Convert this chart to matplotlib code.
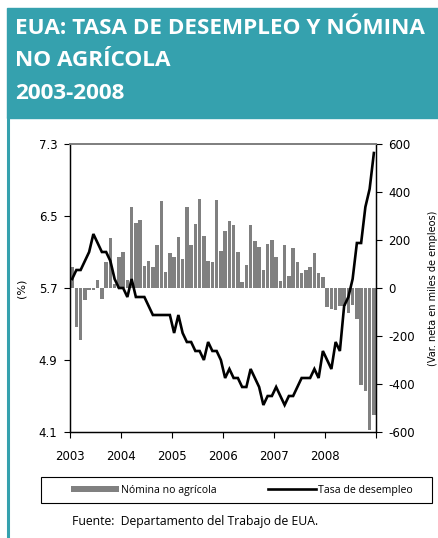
import numpy as np
import matplotlib.pyplot as plt
from matplotlib.patches import Rectangle, Patch
from matplotlib.lines import Line2D

plt.rcParams['font.family'] = ['DejaVu Sans']
plt.rcParams['axes.unicode_minus'] = False

TEAL = '#35a1ae'
GREY = '#808080'

anios = ['2003', '2004', '2005', '2006', '2007', '2008']

# tasa de desempleo mensual (%), ene-2003 a dic-2008
desempleo = [
    5.8, 5.9, 5.9, 6.0, 6.1, 6.3, 6.2, 6.1, 6.1, 6.0, 5.8, 5.7,
    5.7, 5.6, 5.8, 5.6, 5.6, 5.6, 5.5, 5.4, 5.4, 5.4, 5.4, 5.4,
    5.2, 5.4, 5.2, 5.1, 5.1, 5.0, 5.0, 4.9, 5.1, 5.0, 5.0, 4.9,
    4.7, 4.8, 4.7, 4.7, 4.6, 4.6, 4.8, 4.7, 4.6, 4.4, 4.5, 4.5,
    4.6, 4.5, 4.4, 4.5, 4.5, 4.6, 4.7, 4.7, 4.7, 4.8, 4.7, 5.0,
    4.9, 4.8, 5.1, 5.0, 5.5, 5.6, 5.8, 6.2, 6.2, 6.6, 6.8, 7.2,
]

# nomina no agricola, variacion mensual (miles de empleos)
nomina = [
    88, -164, -218, -52, -10, -8, 32, -46, 109, 207, 18, 130,
    148, 32, 338, 272, 285, 93, 114, 86, 180, 363, 65, 147,
    128, 212, 121, 336, 180, 265, 372, 216, 112, 108, 366, 156,
    236, 278, 264, 150, 23, 96, 264, 195, 170, 76, 185, 202,
    129, 28, 180, 48, 166, 110, 61, 76, 86, 144, 63, 44,
    -80, -88, -92, -75, -73, -105, -72, -128, -405, -428, -590, -530,
]

W, H = 438, 538
fig = plt.figure(figsize=(W / 100, H / 100), dpi=100)

# encabezado
fig.patches.append(Rectangle((7 / W, 1 - 118 / H), 1 - 7 / W, 110 / H,
                             transform=fig.transFigure, color=TEAL, zorder=0))
fig.lines.append(Line2D([8 / W, 8 / W], [0, 1 - 118 / H], transform=fig.transFigure,
                        color=TEAL, lw=2.2))
titulo = ['EUA: TASA DE DESEMPLEO Y NÓMINA', 'NO AGRÍCOLA', '2003-2008']
for linea, base in zip(titulo, [34.5, 66.5, 99]):
    fig.text(15 / W, 1 - base / H, linea, color='white', fontsize=16.2,
             fontweight='bold', family='Open Sans', va='baseline', ha='left')

ax = fig.add_axes([70 / W, 1 - 432 / H, 306 / W, 288 / H])
ax2 = ax.twinx()

x = np.arange(len(desempleo)) + 0.5
ax2.bar(x, nomina, width=0.78, color=GREY, linewidth=0)
ax.plot(x, desempleo, color='black', lw=1.9, solid_joinstyle='miter')
ax.set_zorder(ax2.get_zorder() + 1)
ax.patch.set_visible(False)

ax.set_xlim(0, 72)
ax.set_ylim(4.1, 7.3)
ax.set_yticks([4.1, 4.9, 5.7, 6.5, 7.3])
ax.set_yticklabels(['4.1', '4.9', '5.7', '6.5', '7.3'])
ax2.set_ylim(-600, 600)
ax2.set_yticks(range(-600, 601, 200))
ax.set_xticks(range(0, 73, 12))
ax.set_xticklabels(anios + [''])

for a in (ax, ax2):
    a.tick_params(direction='out', length=4, width=0.8, labelsize=8.5, pad=5)
    a.spines['top'].set_color(GREY)
    a.spines['top'].set_linewidth(1.3)
    for s in ('left', 'right', 'bottom'):
        a.spines[s].set_linewidth(0.9)
ax.tick_params(axis='x', pad=9)

ax.set_ylabel('(%)', fontsize=8, labelpad=9)
ax2.set_ylabel('(Var. neta en miles de empleos)', fontsize=7, labelpad=9)

# leyenda
fig.patches.append(Rectangle((41 / W, 1 - 503 / H), 391 / W, 26 / H,
                             transform=fig.transFigure, fill=False,
                             edgecolor='black', lw=0.8))
handles = [Patch(facecolor=GREY, edgecolor='none'),
           Line2D([], [], color='black', lw=1.9)]
fig.legend(handles, ['Nómina no agrícola', 'Tasa de desempleo'],
           loc='center', bbox_to_anchor=(242 / W, 1 - 490 / H), ncol=2,
           frameon=False, handlelength=4.6, handleheight=0.5, handletextpad=0.2,
           columnspacing=4.8, prop={'family': 'Open Sans', 'size': 7.6})

fig.text(72 / W, 1 - 521 / H, 'Fuente:  Departamento del Trabajo de EUA.',
         family='Open Sans', fontsize=8.8, va='center', ha='left')

fig.savefig('out.png', dpi=100)
